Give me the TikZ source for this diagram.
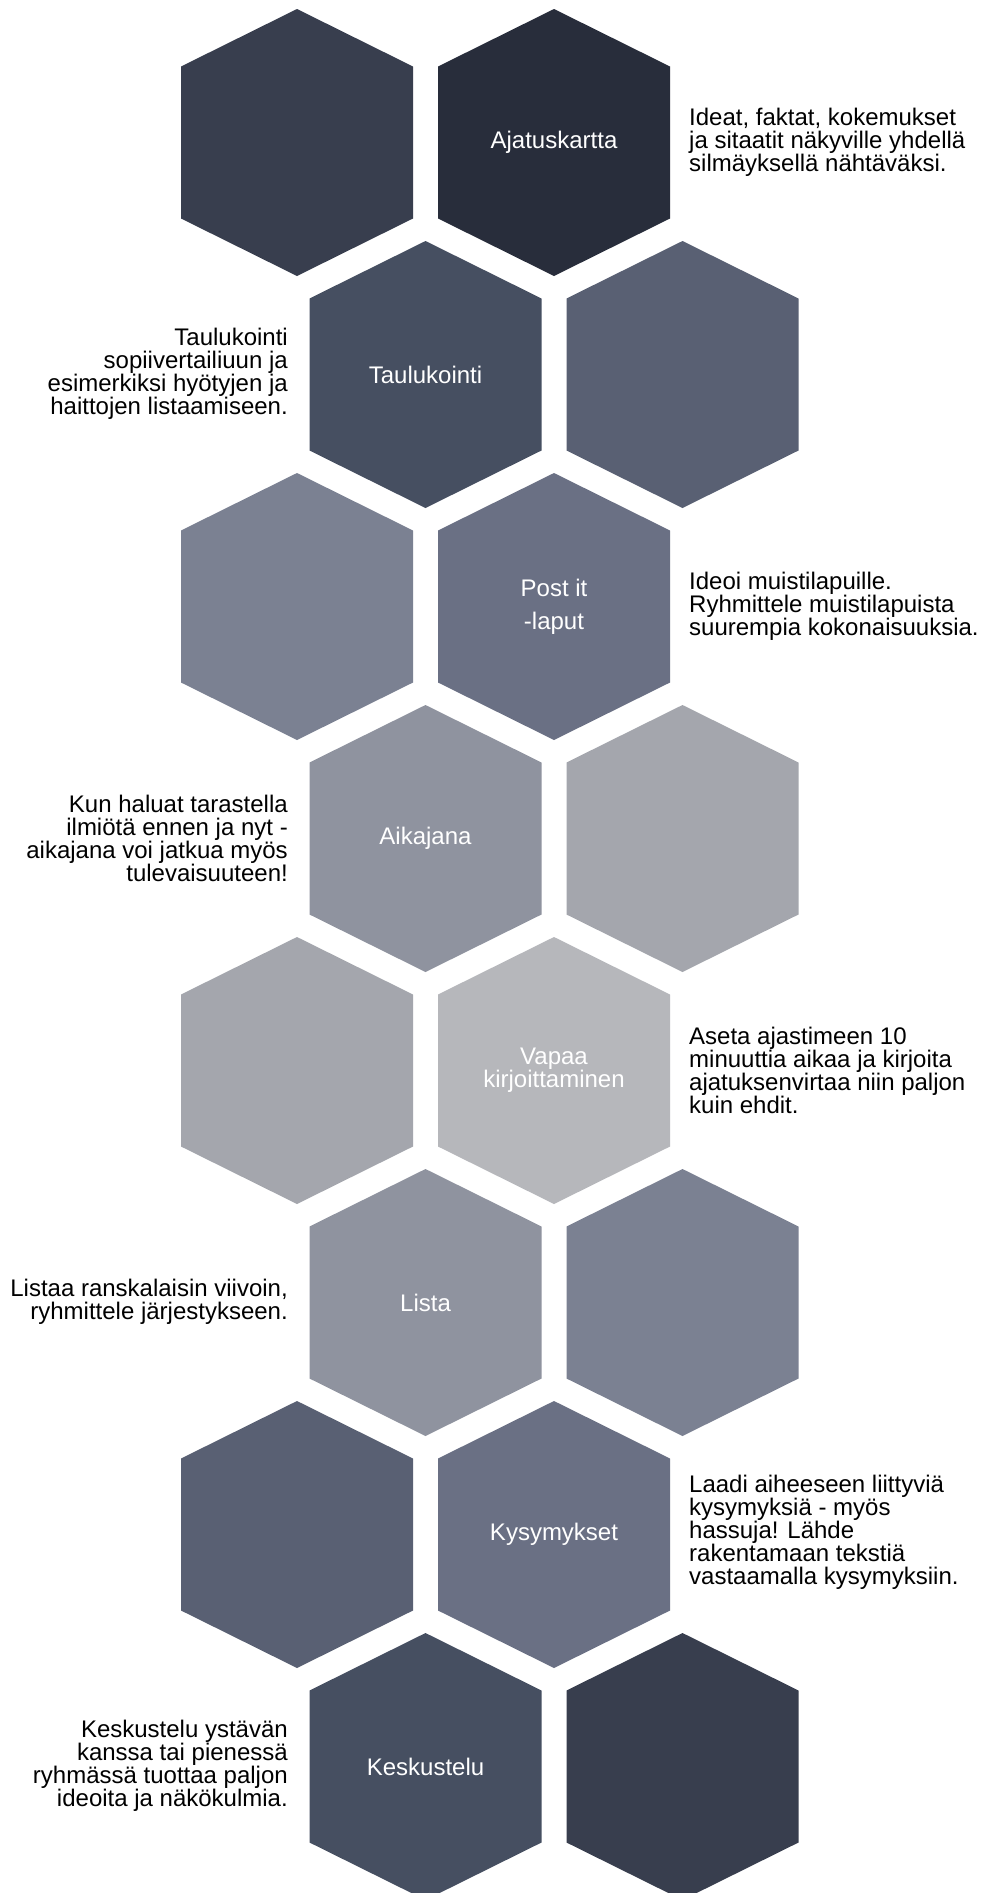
\documentclass[tikz,border=0pt]{standalone}
\usepackage{fontspec}
\setmainfont{Liberation Sans}
\usepackage{tikz}
\definecolor{slateA}{HTML}{282D3B}
\definecolor{slateB}{HTML}{383E4E}
\definecolor{slateC}{HTML}{464F61}
\definecolor{slateD}{HTML}{596073}
\definecolor{slateE}{HTML}{6A7084}
\definecolor{slateF}{HTML}{7B8192}
\definecolor{slateG}{HTML}{8F939F}
\definecolor{slateH}{HTML}{A4A6AD}
\definecolor{slateI}{HTML}{B6B7BB}
\tikzstyle{hexname}=[text=white,align=center,inner sep=0pt,font=\fontsize{24}{23}\selectfont]
\tikzstyle{righttext}=[anchor=west,align=left,inner sep=0pt,font=\fontsize{24}{23}\selectfont]
\tikzstyle{lefttext}=[anchor=east,align=right,inner sep=0pt,font=\fontsize{24}{23}\selectfont]
\tikzset{hexcell/.pic={\path[pic actions] (-116,-76) -- (-116,76) -- (0,133.5) -- (116,76) -- (116,-76) -- (0,-133.5) -- cycle;}}

\begin{document}
\begin{tikzpicture}[x=1pt,y=-1pt]
        \clip (0,0) rectangle (980,1893);
        \fill[white] (0,0) rectangle (980,1893);

        \coordinate (h1a) at (297,142.5);
        \coordinate (h1b) at (554,142.5);
        \pic[fill=slateB] at (h1a) {hexcell};
        \pic[fill=slateA] at (h1b) {hexcell};
        \node[hexname] (ajatus) at (h1b) {Ajatuskartta};
        \node[righttext] (ajatusinfo) at (689,142)
            {Ideat, faktat, kokemukset\\ja sitaatit näkyville yhdellä\\silmäyksellä nähtäväksi.};

        \coordinate (h2a) at (425.5,374.5);
        \coordinate (h2b) at (682.5,374.5);
        \pic[fill=slateC] at (h2a) {hexcell};
        \pic[fill=slateD] at (h2b) {hexcell};
        \node[hexname] (taulu) at (h2a) {Taulukointi};
        \node[lefttext] (tauluinfo) at (288,374)
            {Taulukointi\\sopiivertailiuun ja\\esimerkiksi hyötyjen ja\\haittojen listaamiseen.};

        \coordinate (h3a) at (297,606.5);
        \coordinate (h3b) at (554,606.5);
        \pic[fill=slateF] at (h3a) {hexcell};
        \pic[fill=slateE] at (h3b) {hexcell};
        \node[hexname,font=\fontsize{24}{33}\selectfont] (postit) at (h3b) {Post it\\-laput};
        \node[righttext] (postitinfo) at (689,606)
            {Ideoi muistilapuille.\\Ryhmittele muistilapuista\\suurempia kokonaisuuksia.};

        \coordinate (h4a) at (425.5,838.5);
        \coordinate (h4b) at (682.5,838.5);
        \pic[fill=slateG] at (h4a) {hexcell};
        \pic[fill=slateH] at (h4b) {hexcell};
        \node[hexname] (aika) at (h4a) {Aikajana};
        \node[lefttext] (aikainfo) at (288,838)
            {Kun haluat tarastella\\ilmiötä ennen ja nyt -\\aikajana voi jatkua myös\\tulevaisuuteen!};

        \coordinate (h5a) at (297,1070.5);
        \coordinate (h5b) at (554,1070.5);
        \pic[fill=slateH] at (h5a) {hexcell};
        \pic[fill=slateI] at (h5b) {hexcell};
        \node[hexname] (vapaa) at (h5b) {Vapaa\\kirjoittaminen};
        \node[righttext] (vapaainfo) at (689,1070)
            {Aseta ajastimeen 10\\minuuttia aikaa ja kirjoita\\ajatuksenvirtaa niin paljon\\kuin ehdit.};

        \coordinate (h6a) at (425.5,1302.5);
        \coordinate (h6b) at (682.5,1302.5);
        \pic[fill=slateG] at (h6a) {hexcell};
        \pic[fill=slateF] at (h6b) {hexcell};
        \node[hexname] (lista) at (h6a) {Lista};
        \node[lefttext] (listainfo) at (288,1302)
            {Listaa ranskalaisin viivoin,\\ryhmittele järjestykseen.};

        \coordinate (h7a) at (297,1534.5);
        \coordinate (h7b) at (554,1534.5);
        \pic[fill=slateD] at (h7a) {hexcell};
        \pic[fill=slateE] at (h7b) {hexcell};
        \node[hexname] (kysy) at (h7b) {Kysymykset};
        \node[righttext] (kysyinfo) at (689,1532)
            {Laadi aiheeseen liittyviä\\kysymyksiä - myös\\hassuja! Lähde\\rakentamaan tekstiä\\vastaamalla kysymyksiin.};

        \coordinate (h8a) at (425.5,1766.5);
        \coordinate (h8b) at (682.5,1766.5);
        \pic[fill=slateC] at (h8a) {hexcell};
        \pic[fill=slateB] at (h8b) {hexcell};
        \node[hexname] (keskus) at (h8a) {Keskustelu};
        \node[lefttext] (keskusinfo) at (288,1766)
            {Keskustelu ystävän\\kanssa tai pienessä\\ryhmässä tuottaa paljon\\ideoita ja näkökulmia.};
    \end{tikzpicture}
\end{document}
